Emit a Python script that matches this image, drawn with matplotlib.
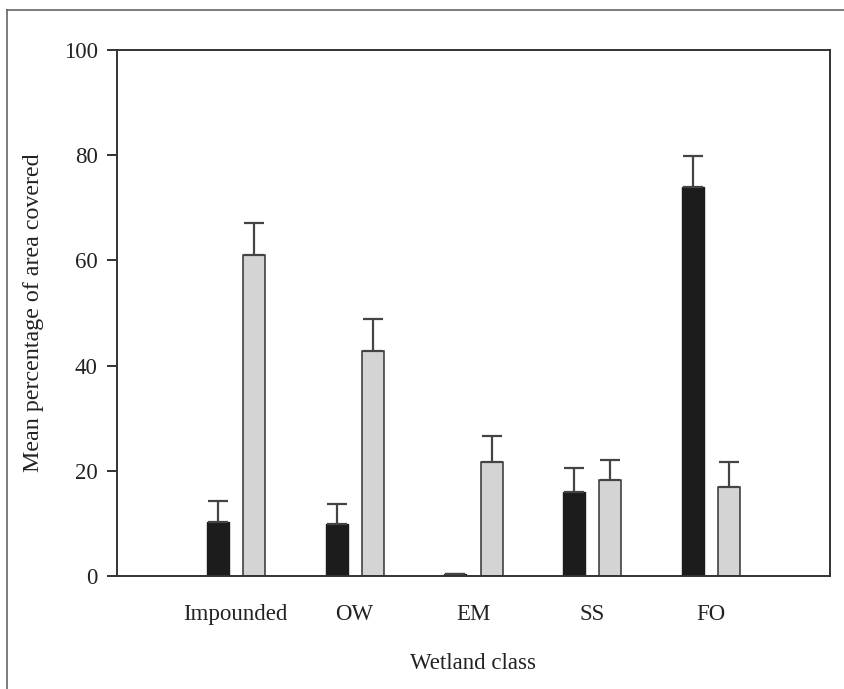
import numpy as np
import matplotlib
matplotlib.use('Agg')
import matplotlib.pyplot as plt
from matplotlib.lines import Line2D

plt.rcParams['font.family'] = ['Liberation Serif', 'DejaVu Serif']

classes = ['Impounded', 'OW', 'EM', 'SS', 'FO']
dark_mean = [10.4, 9.9, 0.4, 16.1, 74.0]
dark_err = [4.0, 3.8, 0.0, 4.4, 5.8]
light_mean = [61.1, 42.8, 21.8, 18.3, 16.9]
light_err = [6.0, 6.0, 4.8, 3.9, 4.8]

fig = plt.figure(figsize=(8.45, 6.89), dpi=100)
ax = fig.add_axes([0.1385, 0.1633, 0.8437, 0.7648])

x = np.arange(len(classes))
w = 0.186
off = 0.152
ekw = dict(ecolor='#444444', elinewidth=1.6, capsize=7, capthick=1.6)

ax.bar(x - off, dark_mean, w, color='#1c1c1c', edgecolor='#1c1c1c', lw=1)
ax.errorbar(x - off, dark_mean, yerr=[np.zeros(5), dark_err], fmt='none', **ekw)
ax.bar(x + off, light_mean, w, color='#d4d4d4', edgecolor='#333333', lw=1.1)
ax.errorbar(x + off, light_mean, yerr=[np.zeros(5), light_err], fmt='none', **ekw)

ax.set_xlim(-1, 5)
ax.set_ylim(0, 100)
ax.set_yticks([0, 20, 40, 60, 80, 100])
ax.set_xticks(x)
ax.set_xticklabels(classes)
fs = 16.5
ax.tick_params(axis='x', length=0, pad=20, labelsize=fs, colors='#222222')
ax.tick_params(axis='y', direction='out', length=7, width=1.3, pad=7,
               labelsize=fs, colors='#222222')
for s in ax.spines.values():
    s.set_linewidth(1.4)
    s.set_color('#333333')

ax.set_xlabel('Wetland class', fontsize=fs, labelpad=20, color='#222222')
ax.set_ylabel('Mean percentage of area covered', fontsize=17.3, labelpad=14,
              color='#222222')

# frame round the figure (left and top edges visible)
fig.add_artist(Line2D([7 / 845, 7 / 845], [0, 1 - 10 / 689],
                      transform=fig.transFigure, color='#666666', lw=1.2))
fig.add_artist(Line2D([7 / 845, 1], [1 - 10 / 689, 1 - 10 / 689],
                      transform=fig.transFigure, color='#666666', lw=1.2))

fig.savefig('out.png', dpi=100)
